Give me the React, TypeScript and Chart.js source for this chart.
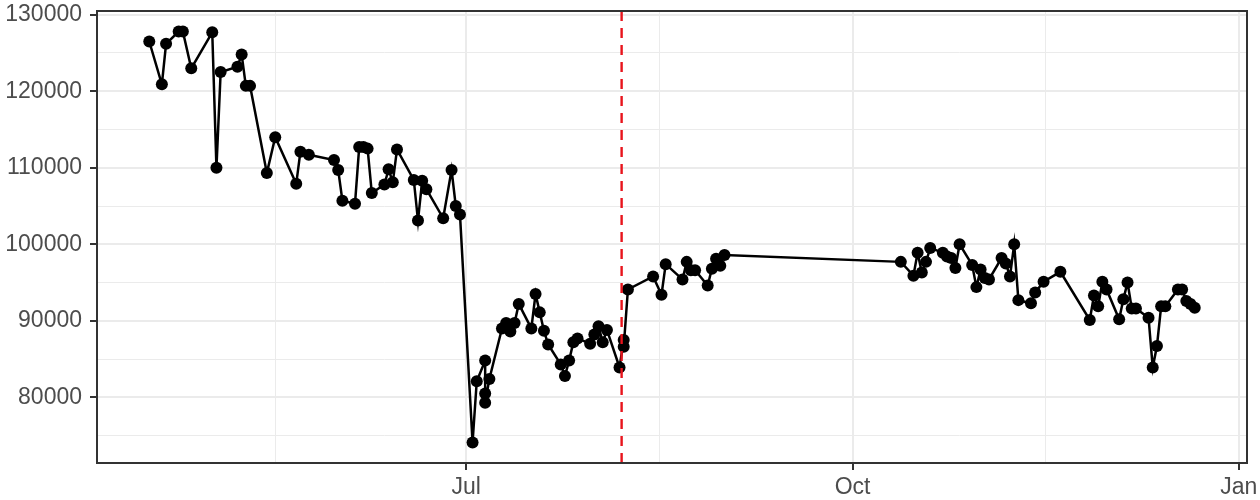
import React, { useEffect, useRef } from "react";
import { Chart, registerables } from "chart.js";

Chart.register(...registerables);

const dates: string[] = [
  "2024-04-16", "2024-04-19", "2024-04-20", "2024-04-23", "2024-04-24", "2024-04-26",
  "2024-05-01", "2024-05-02", "2024-05-03", "2024-05-07", "2024-05-08", "2024-05-09",
  "2024-05-10", "2024-05-14", "2024-05-16", "2024-05-21", "2024-05-22", "2024-05-24",
  "2024-05-30", "2024-05-31", "2024-06-01", "2024-06-04", "2024-06-05", "2024-06-06",
  "2024-06-07", "2024-06-08", "2024-06-11", "2024-06-12", "2024-06-13", "2024-06-14",
  "2024-06-18", "2024-06-19", "2024-06-20", "2024-06-21", "2024-06-25", "2024-06-27",
  "2024-06-28", "2024-06-29", "2024-07-02", "2024-07-03", "2024-07-05", "2024-07-05",
  "2024-07-05", "2024-07-06", "2024-07-09", "2024-07-10", "2024-07-11", "2024-07-12",
  "2024-07-13", "2024-07-16", "2024-07-17", "2024-07-18", "2024-07-19", "2024-07-20",
  "2024-07-23", "2024-07-24", "2024-07-25", "2024-07-26", "2024-07-27", "2024-07-30",
  "2024-07-31", "2024-08-01", "2024-08-02", "2024-08-03", "2024-08-06", "2024-08-07",
  "2024-08-07", "2024-08-08", "2024-08-14", "2024-08-16", "2024-08-17", "2024-08-21",
  "2024-08-22", "2024-08-23", "2024-08-24", "2024-08-27", "2024-08-28", "2024-08-29",
  "2024-08-30", "2024-08-31", "2024-10-12", "2024-10-15", "2024-10-16", "2024-10-17",
  "2024-10-18", "2024-10-19", "2024-10-22", "2024-10-23", "2024-10-24", "2024-10-25",
  "2024-10-26", "2024-10-29", "2024-10-30", "2024-10-31", "2024-11-01", "2024-11-02",
  "2024-11-05", "2024-11-06", "2024-11-07", "2024-11-08", "2024-11-09", "2024-11-12",
  "2024-11-13", "2024-11-15", "2024-11-19", "2024-11-26", "2024-11-27", "2024-11-28",
  "2024-11-29", "2024-11-30", "2024-12-03", "2024-12-04", "2024-12-05", "2024-12-06",
  "2024-12-07", "2024-12-10", "2024-12-11", "2024-12-12", "2024-12-13", "2024-12-14",
  "2024-12-17", "2024-12-18", "2024-12-19", "2024-12-20", "2024-12-21",
];

const values: number[] = [
  126500, 120900, 126200, 127800, 127800, 123000,
  127700, 110000, 122500, 123200, 124800, 120700,
  120700, 109300, 114000, 107900, 112100, 111700,
  111000, 109700, 105700, 105300, 112700, 112700,
  112500, 106700, 107800, 109800, 108100, 112400,
  108400, 103100, 108300, 107200, 103400, 109700,
  105000, 103900, 74100, 82100, 84800, 80500,
  79300, 82400, 89000, 89700, 88600, 89700,
  92200, 89000, 93500, 91100, 88700, 86900,
  84300, 82800, 84800, 87200, 87700, 87000,
  88200, 89300, 87200, 88800, 83900, 87500,
  86600, 94100, 95800, 93400, 97400, 95400,
  97700, 96600, 96600, 94600, 96800, 98100,
  97200, 98600, 97700, 95900, 98900, 96300,
  97700, 99500, 98900, 98400, 98200, 96900,
  100000, 97300, 94400, 96700, 95600, 95400,
  98200, 97500, 95800, 100000, 92700, 92300,
  93700, 95100, 96400, 90100, 93300, 91900,
  95100, 94100, 90200, 92800, 95000, 91600,
  91600, 90400, 83900, 86700, 91900, 91900,
  94100, 94100, 92600, 92200, 91700,
];

const xBreakDates: string[] = ["2024-04-01", "2024-07-01", "2024-10-01", "2025-01-01"];
const xBreakLabels: string[] = ["Apr", "Jul", "Oct", "Jan"];
const yBreaks: number[] = [70000, 80000, 90000, 100000, 110000, 120000, 130000];
const cutoffDate = "2024-08-07";

const DAY = 86400000;
const FONT = "'Liberation Sans', Arial, Helvetica, sans-serif";

export default function App() {
  const ref = useRef<HTMLCanvasElement | null>(null);

  useEffect(() => {
    if (!ref.current) return;
    const xs = dates.map((d) => Date.parse(d) + DAY / 2);
    const xLo = Math.min(...xs);
    const xHi = Math.max(...xs);
    const xMin = xLo - (xHi - xLo) * 0.05;
    const xMax = xHi + (xHi - xLo) * 0.05;
    const yLo = Math.min(...values);
    const yHi = Math.max(...values);
    const yMin = yLo - (yHi - yLo) * 0.05;
    const yMax = yHi + (yHi - yLo) * 0.05;

    const majorX = xBreakDates.map((d) => Date.parse(d));
    const minorX = majorX.slice(1).map((v, i) => (v + majorX[i]) / 2);
    const xTickVals = [...majorX, ...minorX]
      .filter((v) => v >= xMin && v <= xMax)
      .sort((a, b) => a - b);
    const xLabelOf = (v: number) => {
      const i = majorX.indexOf(v);
      return i >= 0 ? xBreakLabels[i] : "";
    };

    const minorY = yBreaks.slice(1).map((v, i) => (v + yBreaks[i]) / 2);
    const yTickVals = [...yBreaks, ...minorY]
      .filter((v) => v >= yMin && v <= yMax)
      .sort((a, b) => a - b);
    const isMajorY = (v: number) => yBreaks.includes(v);
    const isMajorX = (v: number) => majorX.includes(v);

    const cutoff = Date.parse(cutoffDate);

    const overlay = {
      id: "overlay",
      afterDatasetsDraw(chart: any) {
        const { ctx, chartArea } = chart;
        const xs2 = chart.scales.x;
        const px = xs2.getPixelForValue(cutoff);
        ctx.save();
        ctx.strokeStyle = "#E8141C";
        ctx.lineWidth = 2.4;
        ctx.setLineDash([10, 7]);
        ctx.beginPath();
        ctx.moveTo(px, chartArea.top);
        ctx.lineTo(px, chartArea.bottom);
        ctx.stroke();
        ctx.setLineDash([]);
        ctx.strokeStyle = "#333333";
        ctx.lineWidth = 2;
        ctx.strokeRect(
          chartArea.left,
          chartArea.top,
          chartArea.right - chartArea.left,
          chartArea.bottom - chartArea.top
        );
        ctx.restore();
      },
    };

    const chart = new Chart(ref.current, {
      type: "line",
      data: {
        datasets: [
          {
            data: xs.map((x, i) => ({ x, y: values[i] })),
            borderColor: "#000000",
            borderWidth: 2.5,
            pointRadius: 6,
            pointBackgroundColor: "#000000",
            pointBorderWidth: 0,
            pointHoverRadius: 6,
            tension: 0,
            fill: false,
          },
        ],
      },
      options: {
        responsive: false,
        animation: false,
        devicePixelRatio: 1,
        layout: { padding: { left: 0, top: 11, right: 13, bottom: 0 } },
        plugins: {
          legend: { display: false },
          tooltip: { enabled: false },
        },
        scales: {
          x: {
            type: "linear",
            min: xMin,
            max: xMax,
            afterBuildTicks: (scale: any) => {
              scale.ticks = xTickVals.map((v) => ({ value: v }));
            },
            afterFit: (scale: any) => {
              scale.height = 37;
              scale.paddingLeft = 0;
              scale.paddingRight = 0;
            },
            border: { display: false },
            grid: {
              color: "#EBEBEB",
              lineWidth: (c: any) => (c.tick && isMajorX(c.tick.value) ? 2 : 1),
              drawTicks: true,
              tickLength: 7,
              tickWidth: 2,
              tickColor: (c: any) =>
                c.tick && isMajorX(c.tick.value) ? "#333333" : "rgba(0,0,0,0)",
            },
            ticks: {
              autoSkip: false,
              maxRotation: 0,
              padding: 4,
              color: "#4D4D4D",
              font: { family: FONT, size: 23 },
              callback: (v: any) => xLabelOf(Number(v)),
            },
          },
          y: {
            type: "linear",
            min: yMin,
            max: yMax,
            afterBuildTicks: (scale: any) => {
              scale.ticks = yTickVals.map((v) => ({ value: v }));
            },
            afterFit: (scale: any) => {
              scale.width = 97;
              scale.paddingTop = 0;
              scale.paddingBottom = 0;
            },
            border: { display: false },
            grid: {
              color: "#EBEBEB",
              lineWidth: (c: any) => (c.tick && isMajorY(c.tick.value) ? 2 : 1),
              drawTicks: true,
              tickLength: 7,
              tickWidth: 2,
              tickColor: (c: any) =>
                c.tick && isMajorY(c.tick.value) ? "#333333" : "rgba(0,0,0,0)",
            },
            ticks: {
              autoSkip: false,
              padding: 8,
              color: "#4D4D4D",
              font: { family: FONT, size: 23 },
              callback: (v: any) => (isMajorY(Number(v)) ? String(v) : ""),
            },
          },
        },
      },
      plugins: [overlay],
    });

    return () => {
      chart.destroy();
    };
  }, []);

  return (
    <div
      style={{
        position: "fixed",
        left: 0,
        top: 0,
        width: 1260,
        height: 500,
        background: "#FFFFFF",
      }}
    >
      <canvas ref={ref} width={1260} height={500} />
    </div>
  );
}
